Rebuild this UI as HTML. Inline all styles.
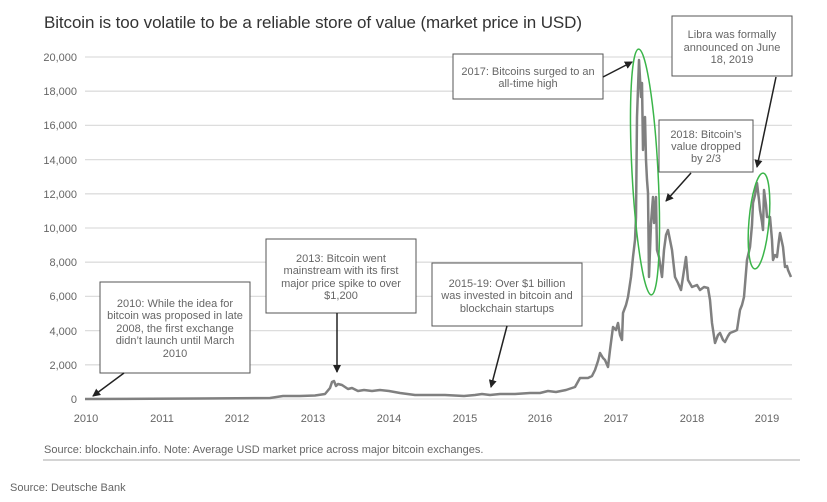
<!DOCTYPE html>
<html><head><meta charset="utf-8"><style>
html,body{margin:0;padding:0;background:#fff;}
svg{display:block;font-family:"Liberation Sans",sans-serif;}
.t{fill:#666;font-size:11px;text-anchor:middle;}
.ax{fill:#666;font-size:11px;}
</style></head><body>
<svg width="827" height="502" viewBox="0 0 827 502">
<defs><marker id="ah" markerWidth="8" markerHeight="8" refX="7" refY="4" orient="auto" markerUnits="userSpaceOnUse"><path d="M0,0 L8,4 L0,8 z" fill="#222"/></marker></defs>
<text x="44" y="28" font-size="17" fill="#333" textLength="538">Bitcoin is too volatile to be a reliable store of value (market price in USD)</text>
<g stroke="#ddd" stroke-width="1.3">
<line x1="85" x2="792" y1="57" y2="57"/><line x1="85" x2="792" y1="91.2" y2="91.2"/><line x1="85" x2="792" y1="125.4" y2="125.4"/><line x1="85" x2="792" y1="159.6" y2="159.6"/><line x1="85" x2="792" y1="193.8" y2="193.8"/><line x1="85" x2="792" y1="228" y2="228"/><line x1="85" x2="792" y1="262.2" y2="262.2"/><line x1="85" x2="792" y1="296.4" y2="296.4"/><line x1="85" x2="792" y1="330.6" y2="330.6"/><line x1="85" x2="792" y1="364.8" y2="364.8"/><line x1="85" x2="792" y1="399" y2="399"/>
</g>
<g class="ax" text-anchor="end">
<text x="77" y="61">20,000</text><text x="77" y="95">18,000</text><text x="77" y="129">16,000</text><text x="77" y="164">14,000</text><text x="77" y="198">12,000</text><text x="77" y="232">10,000</text><text x="77" y="266">8,000</text><text x="77" y="300">6,000</text><text x="77" y="335">4,000</text><text x="77" y="369">2,000</text><text x="77" y="403">0</text>
</g>
<g class="ax" text-anchor="middle">
<text x="86" y="422">2010</text><text x="162" y="422">2011</text><text x="237" y="422">2012</text><text x="313" y="422">2013</text><text x="389" y="422">2014</text><text x="465" y="422">2015</text><text x="540" y="422">2016</text><text x="616" y="422">2017</text><text x="692" y="422">2018</text><text x="767" y="422">2019</text>
</g>
<polyline fill="none" stroke="#808080" stroke-width="2.5" stroke-linejoin="round" points="85,399 200,398.5 270,398 283,396 300,396 315,395.5 325,394 330,388 332,382 334,381 336,386 338,384 342,385 348,389 352,388 358,391 364,390 372,391 380,390 389,391 400,393 415,395 430,395 445,395 464,396 475,395 482,394 490,395 500,394 515,394 530,393 540,393 548,391 556,392 566,390 575,387 580,378 588,378 592,376 595,370 598,361 600,353 603,358 605,360 608,367 610,350 613,327 616,330 618,323 620,335 622,340 623,313 626,305 628,297 631,277 633,257 635,240 636,217 637,117 639,60 641,97 642,83 643,150 644,120 645,117 646,160 647,180 648,193 649,277 650,250 651,223 653,197 654,223 656,197 657,250 659,257 662,277 664,250 666,235 668,230 670,240 672,250 675,277 678,283 681,290 683,277 686,257 688,280 692,287 697,285 700,290 704,287 708,288 710,300 712,323 715,343 718,335 720,333 723,340 725,342 728,336 730,333 735,331 737,330 740,310 742,305 744,297 747,260 750,247 752,225 753,203 755,195 757,183 759,200 760,210 762,222 763,230 764,190 766,205 767,217 770,217 772,240 773,260 775,255 777,257 779,240 780,233 783,247 785,267 787,266 788,270 791,277"/>
<ellipse cx="645" cy="172" rx="13" ry="123" fill="none" stroke="#3bb54a" stroke-width="1.5" transform="rotate(-3 645 172)"/>
<ellipse cx="759" cy="221" rx="10" ry="48" fill="none" stroke="#3bb54a" stroke-width="1.5" transform="rotate(5 759 221)"/>
<g fill="#fff" stroke="#555" stroke-width="1">
<rect x="100" y="282" width="150" height="91"/>
<rect x="266" y="239" width="150" height="74"/>
<rect x="432" y="263" width="150" height="63"/>
<rect x="453" y="54" width="150" height="45"/>
<rect x="659" y="120" width="94" height="52"/>
<rect x="672" y="16" width="120" height="60"/>
</g>
<g stroke="#222" stroke-width="1.5" marker-end="url(#ah)">
<line x1="124" y1="373" x2="93" y2="396"/>
<line x1="337" y1="313" x2="337" y2="372"/>
<line x1="507" y1="326" x2="491" y2="387"/>
<line x1="603" y1="77" x2="632" y2="62"/>
<line x1="691" y1="173" x2="666" y2="201"/>
<line x1="776" y1="77" x2="757" y2="167"/>
</g>
<g class="t">
<text x="175" y="307">2010: While the idea for</text><text x="175" y="319">bitcoin was proposed in late</text><text x="175" y="332">2008, the first exchange</text><text x="175" y="344">didn’t launch until March</text><text x="175" y="357">2010</text>
<text x="341" y="262">2013: Bitcoin went</text><text x="341" y="274">mainstream with its first</text><text x="341" y="287">major price spike to over</text><text x="341" y="299">$1,200</text>
<text x="507" y="287">2015-19: Over $1 billion</text><text x="507" y="299">was invested in bitcoin and</text><text x="507" y="312">blockchain startups</text>
<text x="528" y="75">2017: Bitcoins surged to an</text><text x="528" y="87">all-time high</text>
<text x="706" y="138">2018: Bitcoin’s</text><text x="706" y="150">value dropped</text><text x="706" y="162">by 2/3</text>
<text x="732" y="38">Libra was formally</text><text x="732" y="51">announced on June</text><text x="732" y="63">18, 2019</text>
</g>
<text x="44" y="453" font-size="11" fill="#666">Source: blockchain.info. Note: Average USD market price across major bitcoin exchanges.</text>
<line x1="43" x2="800" y1="460" y2="460" stroke="#bbb" stroke-width="1.3"/>
<text x="10" y="491" font-size="11" fill="#666">Source: Deutsche Bank</text>
</svg>
</body></html>
